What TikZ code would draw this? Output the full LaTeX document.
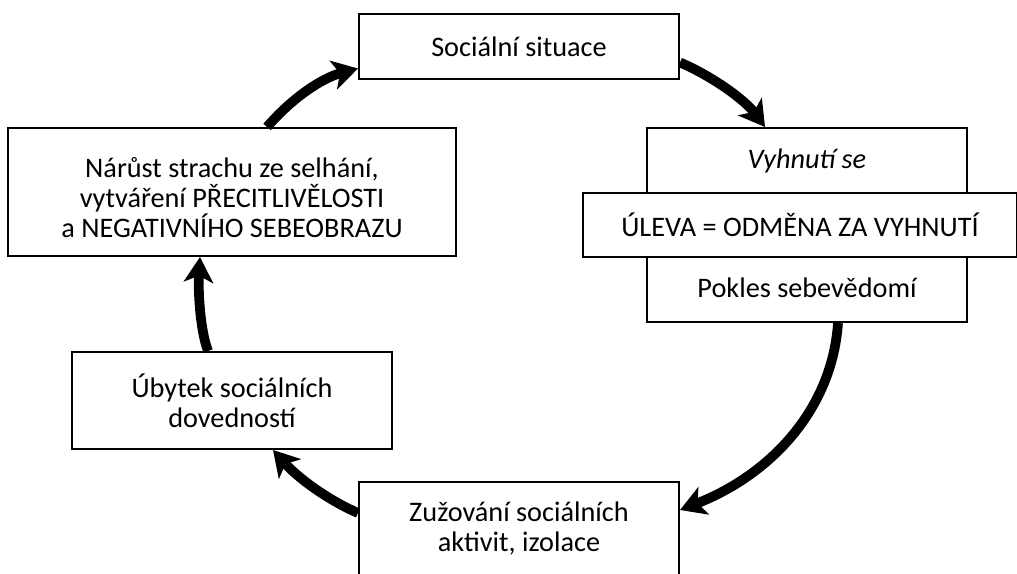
\documentclass[tikz,border=0pt]{standalone}
\usepackage{fontspec}
\setmainfont{Carlito}
\usetikzlibrary{arrows.meta,calc}
\begin{document}
\begin{tikzpicture}[x=0.75pt,y=-0.75pt,
  box/.style={draw=black,line width=1.5pt,fill=white,rectangle,align=center,inner sep=0pt,
    font=\fontsize{21.2}{22.5}\selectfont},
  txt/.style={align=center,inner sep=0pt,font=\fontsize{21.2}{22.5}\selectfont},
  flow/.style={line width=7.3pt,-{Stealth[length=19pt,width=22pt,inset=5pt]}}]
\useasboundingbox (0,0) rectangle (1017,574);
% boxes
\node[box,minimum width=320*0.75pt,minimum height=65*0.75pt] (n1) at (519,46.5) {Sociální situace};
\node[box,minimum width=320*0.75pt,minimum height=194*0.75pt] (n2) at (807,225) {};
\node[txt] (n2a) at (807,161) {\itshape Vyhnutí se};
\node[box,minimum width=434*0.75pt,minimum height=64*0.75pt] (n2b) at (800,225) {ÚLEVA = ODMĚNA ZA VYHNUTÍ};
\node[txt] (n2c) at (807,288) {Pokles sebevědomí};
\node[box,minimum width=448*0.75pt,minimum height=128*0.75pt] (n3) at (232,192) {};
\node[txt] (n3t) at (232,198) {Nárůst strachu ze selhání,\\vytváření PŘECITLIVĚLOSTI\\a NEGATIVNÍHO SEBEOBRAZU};
\node[box,minimum width=320*0.75pt,minimum height=97*0.75pt] (n4) at (232,400.5) {Úbytek sociálních\\dovedností};
\node[box,minimum width=320*0.75pt,minimum height=96*0.75pt] (n5) at (519,530) {};
\node[txt] (n5t) at (519,528) {Zužování sociálních\\aktivit, izolace};
% arrows
\draw[flow] ($(n3.north)+(35,0)$) .. controls (292,98) and (322,78) .. ($(n1.west)+(0,22)$);
\draw[flow] ($(n1.east)+(0,16)$) .. controls (712,76) and (745,100) .. ($(n2.north)+(-42,0)$);
\draw[flow] ($(n2.south)+(31,0)$) .. controls (832,410) and (770,475) .. ($(n5.east)+(0,-20)$);
\draw[flow] ($(n5.west)+(0,-17)$) .. controls (328,500) and (298,478) .. ($(n4.south)+(41,0)$);
\draw[flow] ($(n4.north)+(-24,0)$) .. controls (200,330) and (198,290) .. ($(n3.south)+(-32,0)$);
\end{tikzpicture}
\end{document}
